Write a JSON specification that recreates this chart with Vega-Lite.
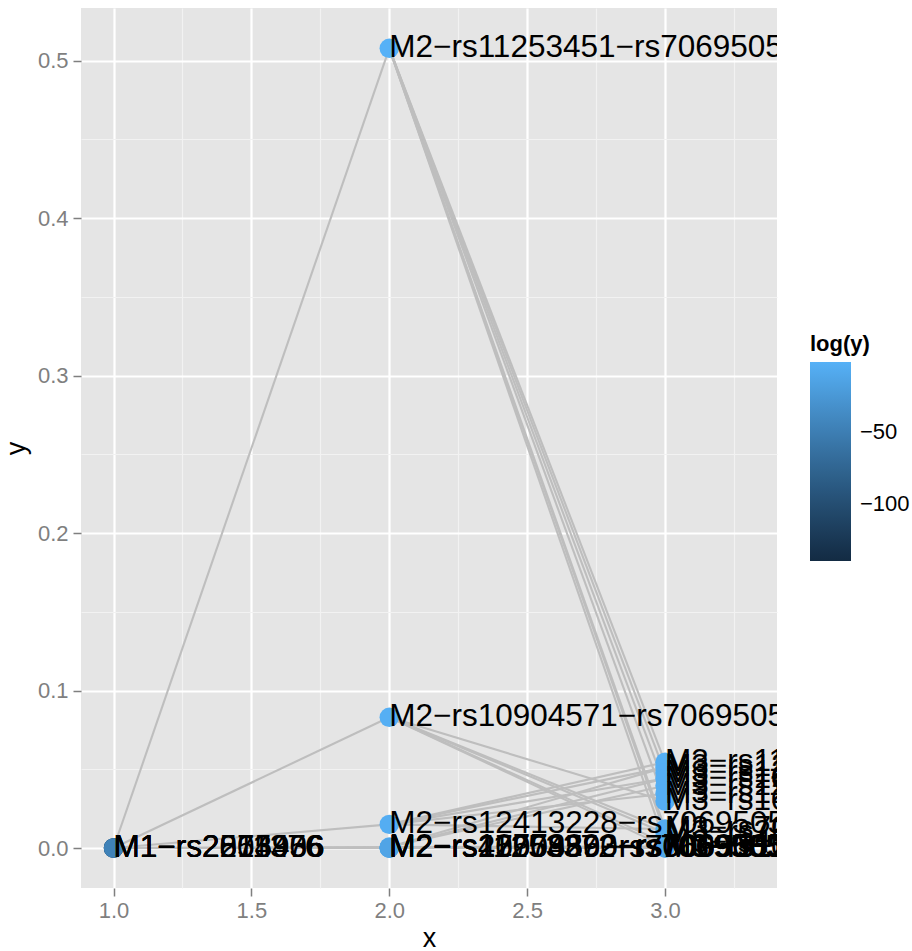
{
  "$schema": "https://vega.github.io/schema/vega-lite/v6.json",
  "width": 696,
  "height": 880,
  "autosize": {"type": "none"},
  "padding": {"left": 81, "top": 8, "right": 135, "bottom": 63},
  "background": "#FFFFFF",
  "config": {
    "view": {"fill": "#E5E5E5", "stroke": null},
    "font": "Liberation Sans"
  },
  "datasets": {
    "nodes": [
      {"x": 1, "y": 1.7e-61, "logy": -139.9, "label": "M1−rs2505956"},
      {"x": 1, "y": 1.1e-40, "logy": -92, "label": "M1−rs2811376"},
      {"x": 1, "y": 1.0e-30, "logy": -69, "label": "M1−rs2274906"},
      {"x": 1, "y": 1.1e-20, "logy": -46, "label": "M1−rs2053436"},
      {"x": 2, "y": 0.5078, "logy": -0.678, "label": "M2−rs11253451−rs7069505"},
      {"x": 2, "y": 0.083, "logy": -2.489, "label": "M2−rs10904571−rs7069505"},
      {"x": 2, "y": 0.015, "logy": -4.2, "label": "M2−rs12413228−rs7069505"},
      {"x": 2, "y": 0.00062, "logy": -7.39, "label": "M2−rs12778293−rs7069505"},
      {"x": 2, "y": 0.00021, "logy": -8.47, "label": "M2−rs2505956−rs7069505"},
      {"x": 2, "y": 0.000045, "logy": -10.0, "label": "M2−rs11253372−rs7069505"},
      {"x": 2, "y": 0.0000091, "logy": -11.6, "label": "M2−rs4750389−rs7069505"},
      {"x": 2, "y": 0.0000023, "logy": -12.98, "label": "M2−rs10904590−rs7069505"},
      {"x": 3, "y": 0.0545, "logy": -2.91, "label": "M3−rs11253451"},
      {"x": 3, "y": 0.0512, "logy": -2.97, "label": "M3−rs12413228"},
      {"x": 3, "y": 0.0478, "logy": -3.04, "label": "M3−rs12256652"},
      {"x": 3, "y": 0.0441, "logy": -3.12, "label": "M3−rs10904571"},
      {"x": 3, "y": 0.0395, "logy": -3.23, "label": "M3−rs11595127"},
      {"x": 3, "y": 0.0345, "logy": -3.37, "label": "M3−rs12770234"},
      {"x": 3, "y": 0.0298, "logy": -3.51, "label": "M3−rs1044197"},
      {"x": 3, "y": 0.0121, "logy": -4.41, "label": "M3−rs7069505"},
      {"x": 3, "y": 0.0095, "logy": -4.66, "label": "M3−rs2505956"},
      {"x": 3, "y": 0.0031, "logy": -5.78, "label": "M3−rs4750389"},
      {"x": 3, "y": 0.0009, "logy": -7.01, "label": "M3−rs11253372"},
      {"x": 3, "y": 0.00018, "logy": -8.62, "label": "M3−rs10904590"},
      {"x": 3, "y": 0.00002, "logy": -10.8, "label": "M3−rs12778293"}
    ],
    "edges": [
      {"x": 1, "y": 0, "xend": 2, "yend": 0.5078},
      {"x": 1, "y": 0, "xend": 2, "yend": 0.083},
      {"x": 1, "y": 0, "xend": 2, "yend": 0.015},
      {"x": 1, "y": 0, "xend": 2, "yend": 0.00062},
      {"x": 1, "y": 0, "xend": 2, "yend": 0.00021},
      {"x": 1, "y": 0, "xend": 2, "yend": 0.000045},
      {"x": 2, "y": 0.5078, "xend": 3, "yend": 0.0545},
      {"x": 2, "y": 0.5078, "xend": 3, "yend": 0.0478},
      {"x": 2, "y": 0.5078, "xend": 3, "yend": 0.0395},
      {"x": 2, "y": 0.5078, "xend": 3, "yend": 0.0298},
      {"x": 2, "y": 0.5078, "xend": 3, "yend": 0.0121},
      {"x": 2, "y": 0.5078, "xend": 3, "yend": 0.0095},
      {"x": 2, "y": 0.5078, "xend": 3, "yend": 0.0031},
      {"x": 2, "y": 0.083, "xend": 3, "yend": 0.0298},
      {"x": 2, "y": 0.083, "xend": 3, "yend": 0.0121},
      {"x": 2, "y": 0.083, "xend": 3, "yend": 0.0095},
      {"x": 2, "y": 0.083, "xend": 3, "yend": 0.0031},
      {"x": 2, "y": 0.083, "xend": 3, "yend": 0.0009},
      {"x": 2, "y": 0.015, "xend": 3, "yend": 0.0545},
      {"x": 2, "y": 0.015, "xend": 3, "yend": 0.0512},
      {"x": 2, "y": 0.015, "xend": 3, "yend": 0.0441},
      {"x": 2, "y": 0.015, "xend": 3, "yend": 0.0345},
      {"x": 2, "y": 0.015, "xend": 3, "yend": 0.0121},
      {"x": 2, "y": 0.00062, "xend": 3, "yend": 0.0512},
      {"x": 2, "y": 0.00062, "xend": 3, "yend": 0.0441},
      {"x": 2, "y": 0.00062, "xend": 3, "yend": 0.0395},
      {"x": 2, "y": 0.00062, "xend": 3, "yend": 0.0009},
      {"x": 2, "y": 0.00021, "xend": 3, "yend": 0.00018},
      {"x": 2, "y": 0.000045, "xend": 3, "yend": 0.00002}
    ]
  },
  "layer": [
    {
      "data": {"name": "edges"},
      "mark": {"type": "rule", "color": "#BEBEBE", "strokeWidth": 2.1},
      "encoding": {
        "x": {
          "field": "x", "type": "quantitative",
          "scale": {"domain": [0.882, 3.406], "nice": false, "zero": false},
          "axis": {
            "title": "x",
            "values": [1, 1.25, 1.5, 1.75, 2, 2.25, 2.5, 2.75, 3, 3.25],
            "labelExpr": "abs(datum.value*2 - round(datum.value*2)) < 1e-6 ? format(datum.value, '.1f') : ''",
            "grid": true,
            "gridColor": {"condition": {"test": "abs(datum.value*2 - round(datum.value*2)) < 1e-6", "value": "#FFFFFF"}, "value": "#F2F2F2"},
            "gridWidth": {"condition": {"test": "abs(datum.value*2 - round(datum.value*2)) < 1e-6", "value": 2.2}, "value": 1.1},
            "tickOpacity": {"condition": {"test": "abs(datum.value*2 - round(datum.value*2)) < 1e-6", "value": 1}, "value": 0},
            "domain": false,
            "tickColor": "#7F7F7F",
            "tickSize": 8,
            "tickWidth": 1.5,
            "labelColor": "#7F7F7F",
            "labelFontSize": 22,
            "labelPadding": 4,
            "labelFlush": false,
            "titleFontSize": 27,
            "titleFontWeight": "normal",
            "titleColor": "#000000",
            "titlePadding": 4
          }
        },
        "y": {
          "field": "y", "type": "quantitative",
          "scale": {"domain": [-0.0254, 0.5334], "nice": false, "zero": false},
          "axis": {
            "title": "y",
            "values": [0, 0.05, 0.1, 0.15, 0.2, 0.25, 0.3, 0.35, 0.4, 0.45, 0.5],
            "labelExpr": "abs(datum.value*10 - round(datum.value*10)) < 1e-6 ? format(datum.value, '.1f') : ''",
            "grid": true,
            "gridColor": {"condition": {"test": "abs(datum.value*10 - round(datum.value*10)) < 1e-6", "value": "#FFFFFF"}, "value": "#F2F2F2"},
            "gridWidth": {"condition": {"test": "abs(datum.value*10 - round(datum.value*10)) < 1e-6", "value": 2.2}, "value": 1.1},
            "tickOpacity": {"condition": {"test": "abs(datum.value*10 - round(datum.value*10)) < 1e-6", "value": 1}, "value": 0},
            "domain": false,
            "tickColor": "#7F7F7F",
            "tickSize": 8,
            "tickWidth": 1.5,
            "labelColor": "#7F7F7F",
            "labelFontSize": 22,
            "labelPadding": 5,
            "labelFlush": false,
            "titleFontSize": 27,
            "titleFontWeight": "normal",
            "titleColor": "#000000",
            "titlePadding": 7
          }
        },
        "x2": {"field": "xend"},
        "y2": {"field": "yend"}
      }
    },
    {
      "data": {"name": "nodes"},
      "mark": {"type": "circle", "size": 380, "opacity": 1},
      "encoding": {
        "x": {"field": "x", "type": "quantitative", "scale": {"domain": [0.882, 3.406], "nice": false, "zero": false}},
        "y": {"field": "y", "type": "quantitative", "scale": {"domain": [-0.0254, 0.5334], "nice": false, "zero": false}},
        "color": {
          "field": "logy", "type": "quantitative",
          "scale": {"domain": [-140, -0.678], "range": ["#132B43", "#56B1F7"], "interpolate": "lab", "nice": false, "zero": false},
          "legend": {
            "title": "log(y)",
            "orient": "none",
            "legendX": 729,
            "legendY": 326,
            "values": [-50, -100],
            "gradientLength": 199,
            "gradientThickness": 41,
            "gradientStrokeWidth": 0,
            "labelFontSize": 22,
            "labelColor": "#000000",
            "labelOffset": 9,
            "titleFontSize": 22,
            "titleFontWeight": "bold",
            "titleColor": "#000000",
            "titlePadding": 6
          }
        }
      }
    },
    {
      "data": {"name": "nodes"},
      "mark": {"type": "text", "align": "left", "baseline": "middle", "fontSize": 31.5, "color": "#000000", "clip": true},
      "encoding": {
        "x": {"field": "x", "type": "quantitative", "scale": {"domain": [0.882, 3.406], "nice": false, "zero": false}},
        "y": {"field": "y", "type": "quantitative", "scale": {"domain": [-0.0254, 0.5334], "nice": false, "zero": false}},
        "text": {"field": "label"}
      }
    }
  ]
}
